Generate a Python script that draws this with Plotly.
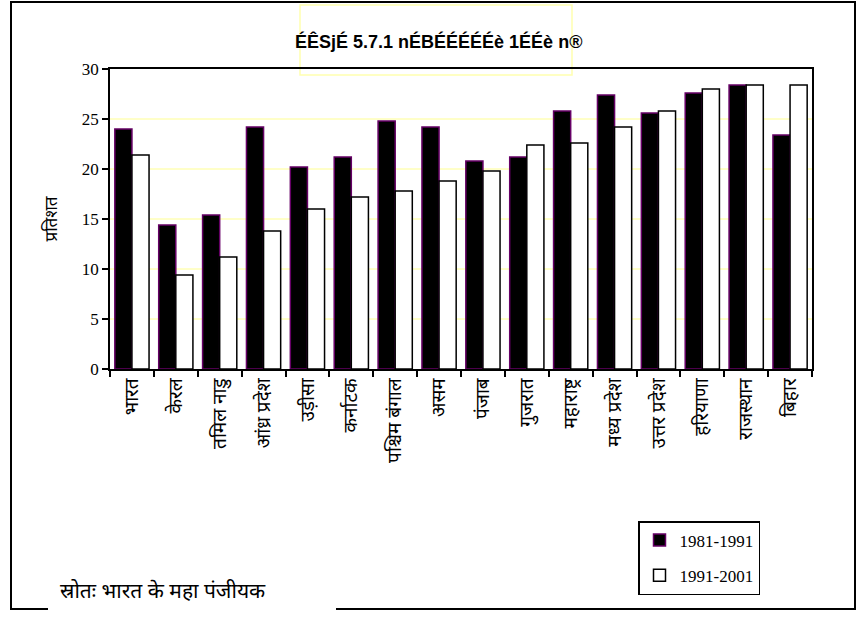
import plotly.graph_objects as go

states = ["भारत", "केरल", "तमिल नाडु", "आंध्र प्रदेश", "उड़ीसा", "कर्नाटक",
          "पश्चिम बंगाल", "असम", "पंजाब", "गुजरात", "महाराष्ट्र", "मध्य प्रदेश",
          "उत्तर प्रदेश", "हरियाणा", "राजस्थान", "बिहार"]
growth_1981_1991 = [24.0, 14.4, 15.4, 24.2, 20.2, 21.2, 24.8, 24.2, 20.8, 21.2,
                    25.8, 27.4, 25.6, 27.6, 28.4, 23.4]
growth_1991_2001 = [21.4, 9.4, 11.2, 13.8, 16.0, 17.2, 17.8, 18.8, 19.8, 22.4,
                    22.6, 24.2, 25.8, 28.0, 28.4, 28.4]
series_names = ["1981-1991", "1991-2001"]
y_ticks = [0, 5, 10, 15, 20, 25, 30]
title_text = "ÉÊSjÉ 5.7.1 nÉBÉÉÉÉÉè 1ÉÉè n®"
y_title = "प्रतिशत"
source_text = "स्रोतः भारत के महा पंजीयक"

W, H = 857, 619
L, R, T, B = 110, 812, 69, 369

def px(x):
    return (x - L) / (R - L)

def py(y):
    return (B - y) / (B - T)

deva = "Noto Sans Devanagari"
serif = "Liberation Serif"

fig = go.Figure()
fig.add_trace(go.Bar(x=states, y=growth_1981_1991, name=series_names[0], legendgroup="a",
                     marker=dict(color="black", line=dict(color="#660066", width=1.5))))
fig.add_trace(go.Bar(x=states, y=growth_1991_2001, name=series_names[1], legendgroup="b",
                     marker=dict(color="white", line=dict(color="black", width=1.5))))

fig.update_layout(
    width=W, height=H, autosize=False,
    margin=dict(l=L, r=W - R, t=T, b=H - B),
    paper_bgcolor="white", plot_bgcolor="white",
    barmode="group", bargap=0.22, bargroupgap=0.0,
    showlegend=True,
    legend=dict(x=px(638), y=py(521), xanchor="left", yanchor="top",
                bordercolor="black", borderwidth=1.5, bgcolor="white",
                font=dict(family=serif, size=17, color="black"),
                tracegroupgap=10, itemwidth=30),
    xaxis=dict(type="category", tickangle=-90, tickson="boundaries",
               ticks="outside", ticklen=6, tickcolor="black", tickwidth=1.5,
               showline=True, linecolor="black", linewidth=1.5, mirror=True,
               tickfont=dict(family=deva, size=19, color="black"),
               showgrid=False),
    yaxis=dict(range=[0, 30], tickvals=y_ticks, ticks="outside", ticklen=6,
               tickcolor="black", tickwidth=1.5,
               showline=True, linecolor="black", linewidth=1.5, mirror=True,
               gridcolor="#FFFFC8", gridwidth=1.5, zeroline=False,
               tickfont=dict(family=serif, size=17, color="black"),
               title=dict(text=y_title, standoff=20,
                          font=dict(family=deva, size=17, color="black"))),
)

shapes = [
    dict(type="rect", xref="paper", yref="paper", x0=px(11), x1=px(855),
         y0=py(609), y1=py(2), line=dict(color="black", width=2), fillcolor="rgba(0,0,0,0)",
         layer="above"),
    dict(type="rect", xref="paper", yref="paper", x0=px(48), x1=px(336),
         y0=py(613), y1=py(578), line=dict(width=0), fillcolor="white", layer="above"),
    dict(type="rect", xref="paper", yref="paper", x0=px(300), x1=px(572),
         y0=py(75), y1=py(5), line=dict(color="#FFFFB0", width=1.5),
         fillcolor="rgba(0,0,0,0)", layer="below"),
]
fig.update_layout(shapes=shapes)

fig.add_annotation(text="<b>" + title_text + "</b>", xref="paper", yref="paper",
                   x=px(438), y=py(42), showarrow=False, xanchor="center", yanchor="middle",
                   font=dict(family="Liberation Sans", size=18, color="black"))
fig.add_annotation(text=source_text, xref="paper", yref="paper",
                   x=px(58), y=py(593), showarrow=False, xanchor="left", yanchor="middle",
                   font=dict(family=deva, size=21, color="black"))

fig.write_html("out.html", config={"displayModeBar": False},
               post_script="document.body.style.margin='0';")
